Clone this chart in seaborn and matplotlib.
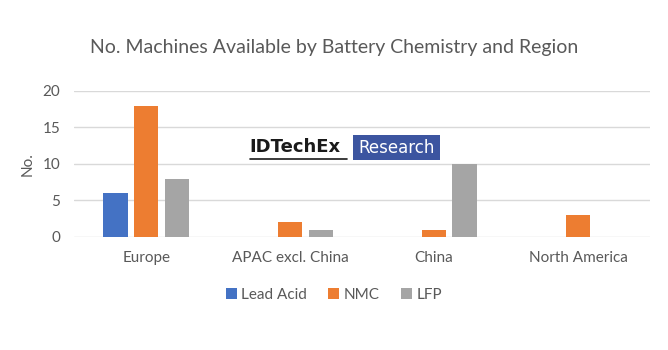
import matplotlib
matplotlib.use("Agg")
import matplotlib.pyplot as plt
import seaborn as sns
import pandas as pd
from matplotlib.patches import Rectangle

regions = ["Europe", "APAC excl. China", "China", "North America"]
lead_acid = [6, 0, 0, 0]
nmc = [18, 2, 1, 3]
lfp = [8, 1, 10, 0]
series = ["Lead Acid", "NMC", "LFP"]
colors = ["#4472C4", "#ED7D31", "#A5A5A5"]

rows = []
for name, vals in zip(series, [lead_acid, nmc, lfp]):
    for r, v in zip(regions, vals):
        rows.append({"Region": r, "Chemistry": name, "No.": v})
df = pd.DataFrame(rows)

sns.set_theme(style="white")
plt.rcParams["font.family"] = ["Lato", "DejaVu Sans"]
txt = "#595959"

fig = plt.figure(figsize=(6.68, 3.5), dpi=100)
ax = fig.add_axes([0.111, 0.323, 0.862, 0.417])
sns.barplot(data=df, x="Region", y="No.", hue="Chemistry", hue_order=series,
            palette=colors, saturation=1, width=0.64, gap=0.2, linewidth=0,
            ax=ax, legend=True)
ax.set_ylim(0, 20)
ax.set_yticks([0, 5, 10, 15, 20])
ax.yaxis.grid(True, color="#D9D9D9", linewidth=1)
ax.set_axisbelow(True)
for s in ax.spines.values():
    s.set_visible(False)
ax.tick_params(axis="both", length=0, colors=txt, labelsize=11)
ax.tick_params(axis="x", pad=10)
ax.tick_params(axis="y", pad=10)
ax.set_xlabel("")
ax.set_ylabel("No.", color=txt, fontsize=11, labelpad=6)
ax.set_xlim(-0.5, 3.5)

fig.text(0.5, 0.865, "No. Machines Available by Battery Chemistry and Region",
         ha="center", va="center", color=txt, fontsize=14)

leg = ax.legend(loc="center", bbox_to_anchor=(0.5, 0.157), bbox_transform=fig.transFigure,
                ncol=3, frameon=False, fontsize=11, handlelength=0.7, handleheight=0.7,
                handletextpad=0.3, columnspacing=1.4)
for t in leg.get_texts():
    t.set_color(txt)

# watermark logo
fig.text(0.374, 0.580, "IDTechEx", ha="left", va="center", fontsize=13,
         fontweight="bold", color="#1a1a1a", family=["DejaVu Sans"])
fig.add_artist(plt.Line2D([0.374, 0.519], [0.546, 0.546], color="#1a1a1a",
                          linewidth=1.2, transform=fig.transFigure))
fig.add_artist(Rectangle((0.529, 0.543), 0.130, 0.072, transform=fig.transFigure,
                         facecolor="#3C55A0", edgecolor="none"))
fig.text(0.594, 0.578, "Research", ha="center", va="center", fontsize=12,
         color="white", family=["DejaVu Sans"])

fig.savefig("out.png", dpi=100, facecolor="white")
